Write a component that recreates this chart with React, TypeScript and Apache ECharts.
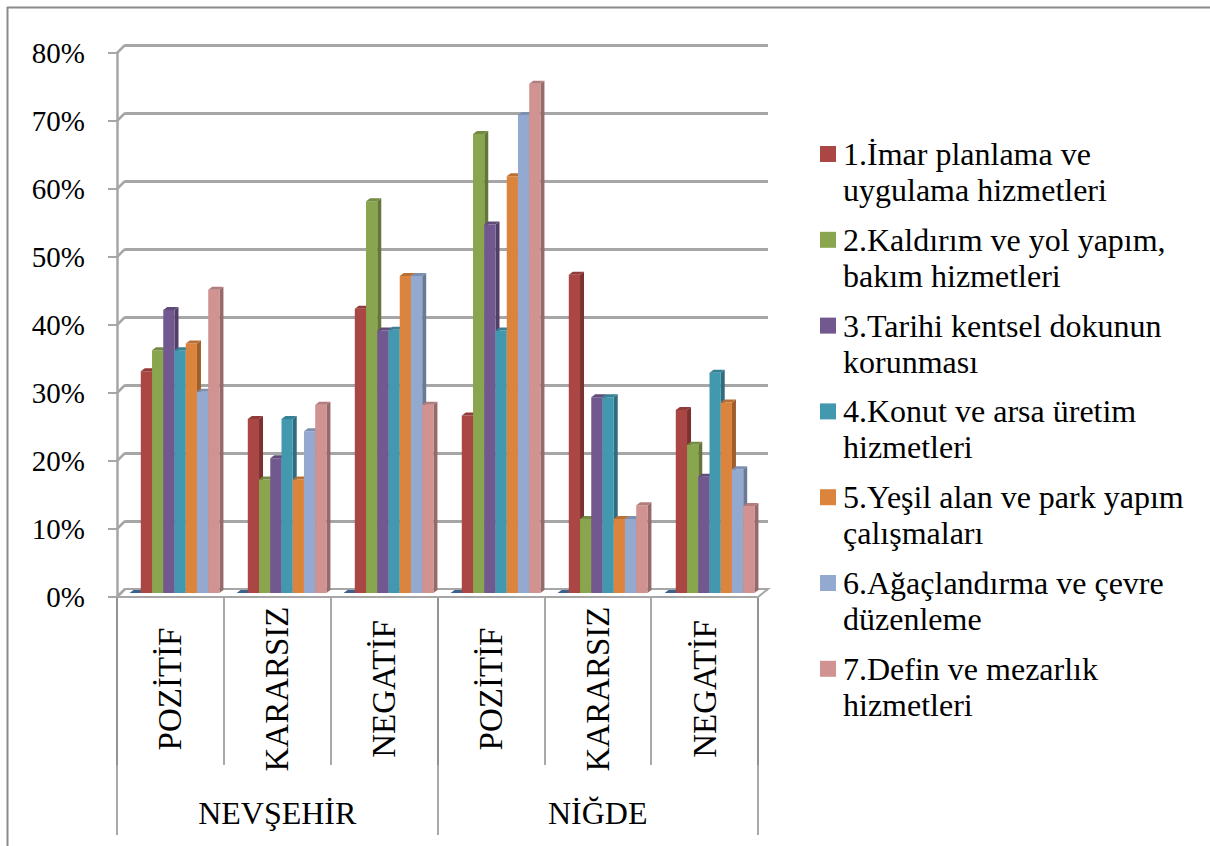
import React, { useEffect, useRef } from 'react';
import * as echarts from 'echarts';

// ---------------- data ----------------
const CATEGORIES = ['POZİTİF', 'KARARSIZ', 'NEGATİF', 'POZİTİF', 'KARARSIZ', 'NEGATİF'];
const CITIES = ['NEVŞEHİR', 'NİĞDE'];
const Y_TICKS = [0, 10, 20, 30, 40, 50, 60, 70, 80];

const SERIES_NAMES = [
  '',
  '1.İmar planlama ve uygulama hizmetleri',
  '2.Kaldırım ve yol yapım, bakım hizmetleri',
  '3.Tarihi kentsel dokunun korunması',
  '4.Konut ve arsa üretim hizmetleri',
  '5.Yeşil alan ve park yapım çalışmaları',
  '6.Ağaçlandırma ve çevre düzenleme',
  '7.Defin ve mezarlık hizmetleri',
];
const LEGEND_LINES = [
  ['', ''],
  ['1.İmar planlama ve', 'uygulama hizmetleri'],
  ['2.Kaldırım ve yol yapım,', 'bakım hizmetleri'],
  ['3.Tarihi kentsel dokunun', 'korunması'],
  ['4.Konut ve arsa üretim', 'hizmetleri'],
  ['5.Yeşil alan ve park yapım', 'çalışmaları'],
  ['6.Ağaçlandırma ve çevre', 'düzenleme'],
  ['7.Defin ve mezarlık', 'hizmetleri'],
];

const S0 = [0, 0, 0, 0, 0, 0];
const S1 = [32.6, 25.6, 41.8, 26.1, 46.8, 26.9];
const S2 = [35.7, 16.7, 57.6, 67.5, 10.9, 21.8];
const S3 = [41.6, 19.8, 38.6, 54.2, 28.8, 17.1];
const S4 = [35.7, 25.6, 38.7, 38.6, 28.8, 32.4];
const S5 = [36.7, 16.7, 46.6, 61.3, 10.9, 28.0];
const S6 = [29.6, 23.8, 46.6, 70.3, 10.9, 18.2];
const S7 = [44.6, 27.7, 27.7, 74.9, 12.9, 12.8];
const SERIES_VALUES = [S0, S1, S2, S3, S4, S5, S6, S7];

// ---------------- style ----------------
const COLORS = ['#4572A7', '#AA4643', '#89A54E', '#71588F', '#4198AF', '#DB843D', '#93A9CF', '#D19392'];
const FONT = 'Liberation Serif';
const GRID_COLOR = '#A6A6A6';
const DIVIDER_COLOR = '#8C8C8C';
const GROUP_RATIO = 0.84;
const DX = 4;
const DY = 3;

// legend layout
const LEG_X = 820;
const LEG_Y0 = 146;
const LEG_PITCH = 85.8;
const LEG_ICON = 16;
const LEG_TEXT_X = 843;
const LEG_LINE_H = 36;
const LEG_FONT = 32;

function shade(hex: string, f: number): string {
  const n = parseInt(hex.slice(1), 16);
  const r = Math.round(((n >> 16) & 255) * f);
  const g = Math.round(((n >> 8) & 255) * f);
  const b = Math.round((n & 255) * f);
  return `rgb(${r},${g},${b})`;
}

const makeBarRender = (idx: number) => (params: any, api: any) => {
  const cat = api.value(0);
  const val = api.value(1);
  const pTop = api.coord([cat, val]);
  const pBase = api.coord([cat, 0]);
  const band = api.size([1, 0])[0];
  const gw = band * GROUP_RATIO;
  const w = gw / SERIES_VALUES.length;
  const x = pTop[0] - gw / 2 + idx * w;
  const yT = pTop[1];
  const yB = pBase[1];
  const c = COLORS[idx];
  return {
    type: 'group',
    children: [
      {
        type: 'polygon',
        shape: { points: [[x + w, yT], [x + w + DX, yT - DY], [x + w + DX, yB - DY], [x + w, yB]] },
        style: { fill: shade(c, 0.72) },
      },
      {
        type: 'rect',
        shape: { x, y: yT, width: w, height: yB - yT },
        style: { fill: c },
      },
      {
        type: 'polygon',
        shape: { points: [[x, yT], [x + DX, yT - DY], [x + w + DX, yT - DY], [x + w, yT]] },
        style: { fill: shade(c, 0.85) },
      },
    ],
  };
};

const wallRender = (params: any, api: any) => {
  const v = api.value(0);
  const cs = params.coordSys;
  const p = api.coord([0, v]);
  const x0 = cs.x;
  const children: any[] = [];
  if (v === 0) {
    const yF = cs.y + cs.height;
    children.push({
      type: 'polygon',
      shape: {
        points: [[x0, yF], [x0 + 8, yF - 8], [x0 + cs.width + 10, yF - 8], [x0 + cs.width, yF]],
      },
      style: { fill: '#ffffff', stroke: GRID_COLOR, lineWidth: 2 },
    });
  }
  children.push({
    type: 'line',
    shape: { x1: x0, y1: p[1], x2: x0 + 8, y2: p[1] - 8 },
    style: { stroke: GRID_COLOR, lineWidth: 2.5 },
  });
  return { type: 'group', children };
};

function buildLegendGraphics(): any[] {
  const out: any[] = [];
  for (let i = 1; i < SERIES_NAMES.length; i++) {
    const top = LEG_Y0 + (i - 1) * LEG_PITCH;
    const cy = top + LEG_ICON / 2;
    out.push({
      type: 'rect',
      silent: true,
      shape: { x: LEG_X, y: top, width: LEG_ICON, height: LEG_ICON },
      style: { fill: COLORS[i] },
    });
    LEGEND_LINES[i].forEach((line, j) => {
      out.push({
        type: 'text',
        silent: true,
        x: LEG_TEXT_X,
        y: cy + j * LEG_LINE_H,
        style: {
          text: line,
          font: `${LEG_FONT}px "Liberation Serif"`,
          fontFamily: FONT,
          fontSize: LEG_FONT,
          fill: '#000',
          align: 'left',
          verticalAlign: 'middle',
        },
      });
    });
  }
  return out;
}

export default function App() {
  const ref = useRef<HTMLDivElement>(null);

  useEffect(() => {
    if (!ref.current) return;
    const chart = echarts.init(ref.current, undefined, { renderer: 'svg' });

    const front = { left: 117, right: 1210 - 758, top: 53, bottom: 846 - 597 };
    const back = { left: 125, right: 1210 - 768, top: 45, bottom: 846 - 589 };
    const mid = { left: 121, right: 1210 - 763, top: 49, bottom: 846 - 593 };

    const barSeries = SERIES_VALUES.map((vals, i) => ({
      type: 'custom',
      name: SERIES_NAMES[i] || 'zero',
      xAxisIndex: 3,
      yAxisIndex: 2,
      renderItem: makeBarRender(i),
      itemStyle: { color: COLORS[i] },
      encode: { x: 0, y: 1 },
      data: vals.map((v, c) => [c, v]),
      silent: true,
    }));

    const option: any = {
      animation: false,
      backgroundColor: '#ffffff',
      textStyle: { fontFamily: FONT },
      grid: [
        { ...front, containLabel: false },
        { ...back, containLabel: false },
        { ...mid, containLabel: false },
      ],
      xAxis: [
        {
          type: 'category',
          gridIndex: 0,
          data: CATEGORIES,
          position: 'bottom',
          boundaryGap: true,
          axisLine: { show: true, lineStyle: { color: GRID_COLOR, width: 2 } },
          axisTick: { show: true, interval: 0, length: 168, lineStyle: { color: DIVIDER_COLOR, width: 1.5 } },
          axisLabel: {
            interval: 0,
            rotate: 90,
            margin: 92,
            align: 'center',
            verticalAlign: 'middle',
            fontFamily: FONT,
            fontSize: 33,
            color: '#000',
          },
          splitLine: { show: false },
        },
        {
          type: 'category',
          gridIndex: 0,
          data: CITIES,
          position: 'bottom',
          offset: 0,
          boundaryGap: true,
          axisLine: { show: false },
          axisTick: { show: true, interval: 0, length: 238, lineStyle: { color: DIVIDER_COLOR, width: 1.5 } },
          axisLabel: {
            interval: 0,
            margin: 216,
            verticalAlign: 'middle',
            fontFamily: FONT,
            fontSize: 32,
            color: '#000',
          },
          splitLine: { show: false },
        },
        {
          type: 'category',
          gridIndex: 1,
          data: CATEGORIES,
          show: false,
        },
        {
          type: 'category',
          gridIndex: 2,
          data: CATEGORIES,
          show: false,
        },
      ],
      yAxis: [
        {
          type: 'value',
          gridIndex: 0,
          min: 0,
          max: 80,
          interval: 10,
          axisLine: { show: true, lineStyle: { color: GRID_COLOR, width: 2.5 } },
          axisTick: { show: true, length: 9, lineStyle: { color: GRID_COLOR, width: 2 } },
          axisLabel: {
            formatter: '{value}%',
            margin: 32,
            fontFamily: FONT,
            fontSize: 29,
            color: '#000',
          },
          splitLine: { show: false },
        },
        {
          type: 'value',
          gridIndex: 1,
          min: 0,
          max: 80,
          interval: 10,
          axisLine: { show: false },
          axisTick: { show: false },
          axisLabel: { show: false },
          splitLine: { show: true, lineStyle: { color: GRID_COLOR, width: 3 } },
        },
        {
          type: 'value',
          gridIndex: 2,
          min: 0,
          max: 80,
          interval: 10,
          show: false,
          splitLine: { show: false },
        },
      ],
      legend: { show: false },
      graphic: [
        { type: 'line', silent: true, shape: { x1: 7, y1: 7.5, x2: 1210, y2: 7.5 }, style: { stroke: '#8A8A8A', lineWidth: 2 } },
        { type: 'line', silent: true, shape: { x1: 7.5, y1: 7, x2: 7.5, y2: 846 }, style: { stroke: '#8A8A8A', lineWidth: 2 } },
        ...buildLegendGraphics(),
      ],
      series: [
        {
          type: 'custom',
          name: 'wall',
          xAxisIndex: 0,
          yAxisIndex: 0,
          renderItem: wallRender,
          encode: { y: 0 },
          data: Y_TICKS.map((t) => [t]),
          silent: true,
        },
        ...barSeries,
      ],
    };

    chart.setOption(option);
    return () => chart.dispose();
  }, []);

  return (
    <div
      ref={ref}
      style={{ position: 'absolute', left: 0, top: 0, width: 1210, height: 846, background: '#fff' }}
    />
  );
}
